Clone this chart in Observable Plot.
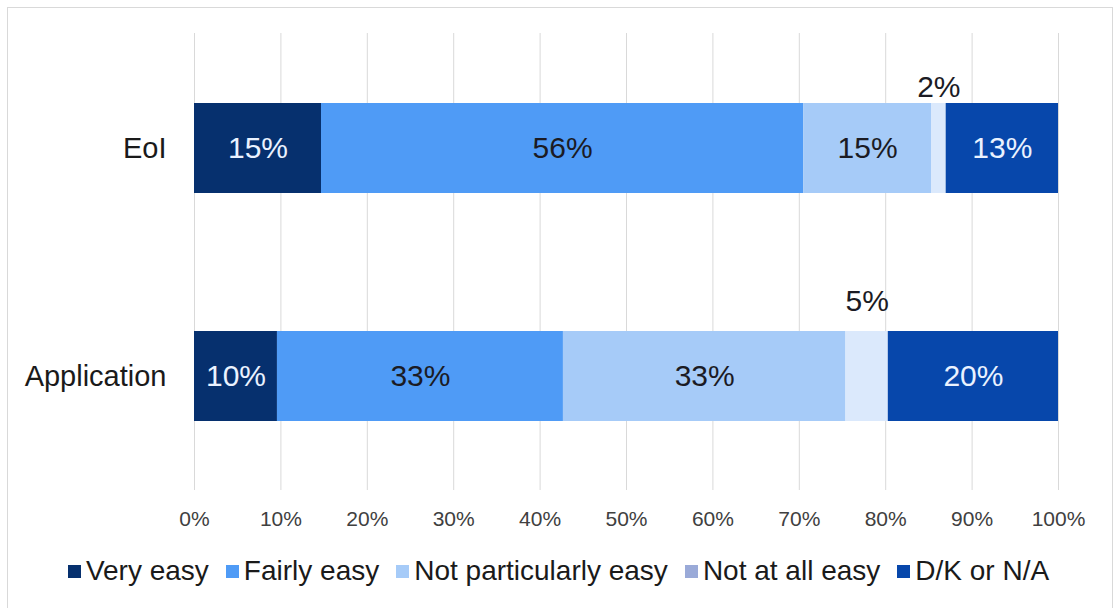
<!DOCTYPE html>
<html>
<head>
<meta charset="utf-8">
<script src="https://cdn.jsdelivr.net/npm/d3@7"></script>
<script src="https://cdn.jsdelivr.net/npm/@observablehq/plot@0.6"></script>
<style>
  html, body { margin: 0; padding: 0; background: #fff; }
  body { width: 1117px; height: 608px; position: relative; overflow: hidden; font-family: "Liberation Sans", Arial, sans-serif; }
  #chart { position: absolute; left: 0; top: 0; }
  #frame { position: absolute; left: 7px; top: 7px; width: 1106px; height: 620px; border: 1px solid #d9d9d9; box-sizing: border-box; pointer-events: none; }
  #legend { position: absolute; left: 0; top: 553px; width: 1117px; display: flex; justify-content: center; gap: 17px; font-size: 28px; color: #1a1a1a; line-height: 36px; }
  #legend .item { display: flex; align-items: center; white-space: nowrap; }
  #legend .sw { width: 13px; height: 13px; margin-right: 5px; display: inline-block; }
</style>
</head>
<body>
<div id="chart"></div>
<div id="legend"></div>
<div id="frame"></div>
<script>
// ---- data ----
const categories = ["EoI", "Application"];
const responses = ["Very easy", "Fairly easy", "Not particularly easy", "Not at all easy", "D/K or N/A"];
const eoiValues = [0.147, 0.558, 0.148, 0.017, 0.130];
const applicationValues = [0.096, 0.331, 0.327, 0.049, 0.197];
const xTicks = [0, 0.1, 0.2, 0.3, 0.4, 0.5, 0.6, 0.7, 0.8, 0.9, 1.0];

// ---- styles ----
const barColors = ["#06306e", "#4f9bf6", "#a6cbf8", "#dbe9fc", "#0747ab"];
const legendColors = ["#06306e", "#4f9bf6", "#a6cbf8", "#9aaad8", "#0747ab"];
const lightText = "#eaf2ff";
const darkText = "#1b1b24";

const seriesByCategory = {EoI: eoiValues, Application: applicationValues};
const data = [];
for (const c of categories) {
  seriesByCategory[c].forEach((v, i) => data.push({category: c, response: responses[i], value: v}));
}
const fmt = d3.format(".0%");
const onDark = new Set(["Very easy", "D/K or N/A"]);
const onMid = new Set(["Fairly easy", "Not particularly easy"]);
const above = "Not at all easy";

const inset = 69;
const chart = Plot.plot({
  width: 1117,
  height: 545,
  marginLeft: 194,
  marginRight: 59,
  marginTop: 33,
  marginBottom: 55,
  style: {background: "transparent", fontFamily: "'Liberation Sans', Arial, sans-serif"},
  x: {domain: [0, 1]},
  y: {domain: categories, padding: 0},
  color: {domain: responses, range: barColors},
  marks: [
    Plot.gridX({ticks: xTicks, stroke: "#d9d9d9", strokeOpacity: 1, strokeWidth: 1}),
    Plot.barX(data, Plot.stackX({x: "value", y: "category", fill: "response", insetTop: inset, insetBottom: inset})),
    Plot.text(data, Plot.stackX({x: "value", y: "category", z: "response",
      text: d => onDark.has(d.response) ? fmt(d.value) : "", fill: lightText, fontSize: 30})),
    Plot.text(data, Plot.stackX({x: "value", y: "category", z: "response",
      text: d => onMid.has(d.response) ? fmt(d.value) : "", fill: darkText, fontSize: 30})),
    Plot.text(data.filter(d => d.category === "EoI"), Plot.stackX({x: "value", y: "category", z: "response",
      text: d => d.response === above ? fmt(d.value) : "", fill: darkText, fontSize: 30, dy: -61})),
    Plot.text(data.filter(d => d.category === "Application"), Plot.stackX({x: "value", y: "category", z: "response",
      text: d => d.response === above ? fmt(d.value) : "", fill: darkText, fontSize: 30, dy: -75})),
    Plot.axisX({ticks: xTicks, tickFormat: fmt, tickSize: 0, tickPadding: 21, fontSize: 21, fill: "#404040", label: null}),
    Plot.axisY({tickSize: 0, tickPadding: 28, fontSize: 29, fill: "#1a1a1a", label: null})
  ]
});
document.getElementById("chart").appendChild(chart);

const legend = document.getElementById("legend");
responses.forEach((r, i) => {
  const item = document.createElement("div");
  item.className = "item";
  const sw = document.createElement("span");
  sw.className = "sw";
  sw.style.background = legendColors[i];
  const t = document.createElement("span");
  t.textContent = r;
  item.appendChild(sw);
  item.appendChild(t);
  legend.appendChild(item);
});
</script>
</body>
</html>
